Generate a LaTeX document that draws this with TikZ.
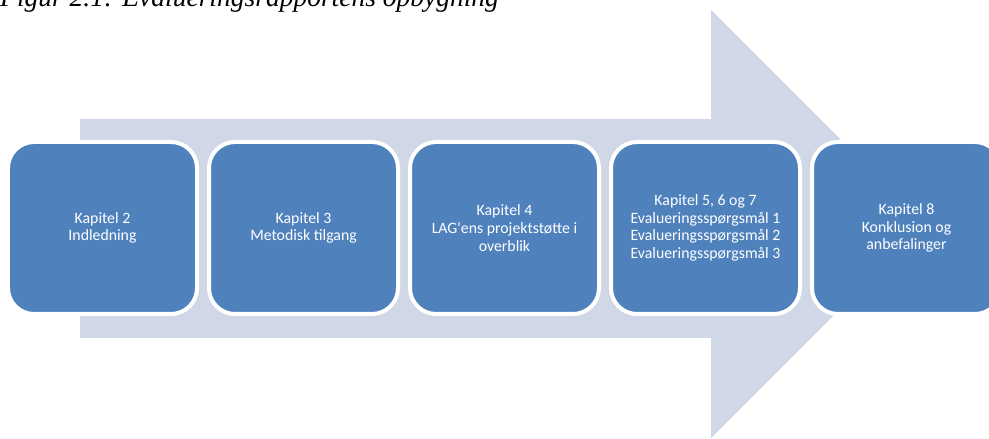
\documentclass[tikz,border=0pt]{standalone}
\usepackage{fontspec}
\setmainfont{Carlito}
\newfontfamily\titlefont{Liberation Serif}
\definecolor{boxblue}{HTML}{4F81BD}
\definecolor{arrowlav}{HTML}{D0D8E8}
\begin{document}
\begin{tikzpicture}[x=1bp,y=-1bp,
  chapbox/.style={rectangle, rounded corners=26bp, fill=boxblue, draw=white,
    line width=4bp, minimum width=189bp, minimum height=172bp, inner sep=0pt,
    text=white, align=center, font=\fontsize{15.8bp}{17.7bp}\selectfont}]
\useasboundingbox (0,0) rectangle (989,439);
\clip (0,0) rectangle (989,439);
\fill[white] (0,0) rectangle (989,439);
% big arrow
\fill[arrowlav] (80,119) -- (711,119) -- (711,10) -- (925,224) -- (711,438)
  -- (711,338) -- (80,338) -- cycle;
% title
\node[anchor=base west, inner sep=0pt, font=\titlefont\itshape\fontsize{27.5bp}{30bp}\selectfont]
  (title) at (0,7) {Figur 2.1: Evalueringsrapportens opbygning};
% boxes
\node[chapbox] (k2) at (102.5,228) {Kapitel 2\\Indledning};
\node[chapbox] (k3) at (303.5,228) {Kapitel 3\\Metodisk tilgang};
\node[chapbox] (k4) at (504.5,228) {Kapitel 4\\LAG\textquotesingle ens projektstøtte i\\overblik};
\node[chapbox] (k5) at (705.5,228) {Kapitel 5, 6 og 7\\Evalueringsspørgsmål 1\\Evalueringsspørgsmål 2\\Evalueringsspørgsmål 3};
\node[chapbox] (k8) at (906.5,228) {Kapitel 8\\Konklusion og\\anbefalinger};
\end{tikzpicture}
\end{document}
